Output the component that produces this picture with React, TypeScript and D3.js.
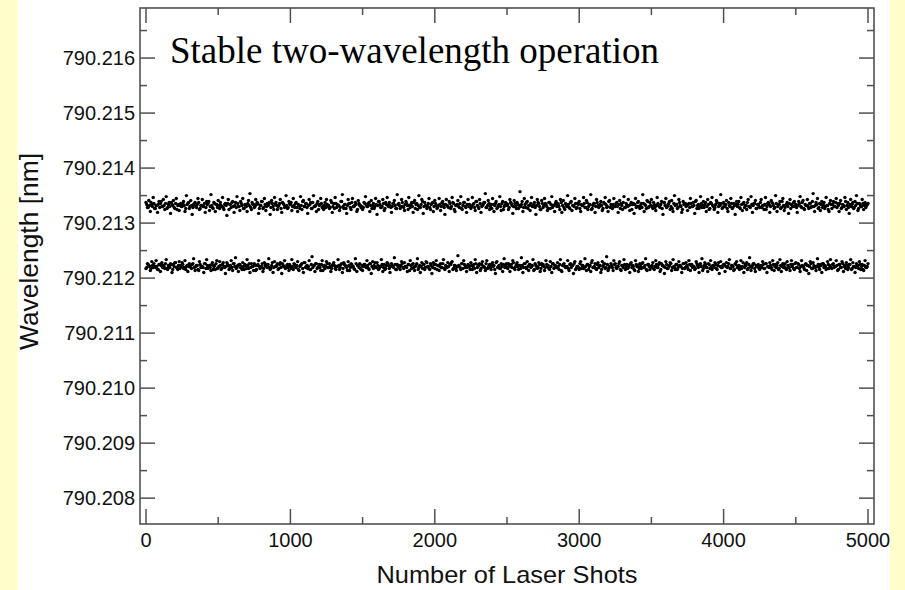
import React from "react";
import * as d3 from "d3";

// ---- data ----
const title = "Stable two-wavelength operation";
const xLabel = "Number of Laser Shots";
const yLabel = "Wavelength [nm]";
const xTickValues = [0, 1000, 2000, 3000, 4000, 5000];
const xMinorValues = [500, 1500, 2500, 3500, 4500];
const yTickValues = [790.208, 790.209, 790.21, 790.211, 790.212, 790.213, 790.214, 790.215, 790.216];
const yTickLabels = ["790.208", "790.209", "790.210", "790.211", "790.212", "790.213", "790.214", "790.215", "790.216"];
const yMinorValues = [790.2085, 790.2095, 790.2105, 790.2115, 790.2125, 790.2135, 790.2145, 790.2155, 790.2165];
const shotStep = 10; // shots between samples within one array
const upperBase = 790.21332; // nm
const lowerBase = 790.21221; // nm
const devUnit = 0.000018; // deviations below are in units of 1.8e-5 nm
// samples at shots 0,10,...,5000
const upperDev = [
  3,-2,5,-6,1,8,-3,0,-7,4,2,-1,6,-4,9,-2,3,-8,1,5,-3,7,0,-5,2,
  -1,4,-6,10,2,-3,5,-9,1,3,-2,7,-4,0,6,-1,-7,4,2,-5,11,-2,3,-6,1,
  5,-3,0,8,-4,2,-10,6,1,-2,4,-7,3,9,-1,-5,2,7,-3,0,-6,5,12,-4,1,
  -2,6,3,-8,0,4,-3,7,-5,2,1,-9,5,-1,8,3,-4,0,6,-7,2,-2,10,-3,4,
  1,-5,7,-2,3,-6,0,9,-4,5,-1,2,-8,6,3,-3,10,-1,-6,4,0,7,-2,-4,3,
  6,-1,-3,5,-7,2,8,-2,0,-5,4,11,-3,1,-8,6,2,-4,7,-1,3,-6,5,0,-2,
  -4,3,9,-1,2,-6,5,0,-3,7,-9,4,1,-2,6,-5,3,8,-1,0,-7,2,5,-3,11,
  2,-3,6,-1,-5,4,0,8,-2,3,-7,5,1,-4,10,-2,6,-8,3,0,-1,7,-4,2,-6,
  5,0,-2,7,-5,3,1,-9,6,-1,4,-3,8,2,-6,0,5,-2,9,-4,3,-1,-7,6,1,
  -3,8,2,-5,4,-1,6,-7,0,3,12,-2,5,-4,1,7,-6,2,-3,0,9,-5,4,-1,3,
  0,-4,6,2,-8,5,-1,3,-3,14,1,-6,7,-2,4,0,-5,8,-1,3,-9,6,2,-4,5,
  -2,7,1,-5,3,-3,9,0,-6,4,2,-1,6,-7,5,-4,1,10,-2,3,-5,0,7,-3,2,
  4,-6,0,8,-2,5,-4,1,11,-3,2,-7,6,0,-1,4,-5,3,8,-2,-6,5,1,-3,7,
  -1,3,-7,5,2,-4,9,-2,0,6,-5,3,1,-8,7,-1,4,-3,2,11,-6,0,5,-2,3,
  6,-3,1,-5,8,0,-2,4,-9,3,7,-1,2,-4,5,-6,10,1,-3,6,0,-7,4,2,-1,
  -5,2,7,-1,3,-8,5,0,-3,9,-2,4,1,-6,6,-4,3,8,-1,-2,5,-7,2,11,-3,
  3,-1,5,-6,0,7,-3,2,-9,4,1,-2,8,-5,3,0,-4,6,-1,9,-7,2,5,-3,1,
  -2,6,0,-4,8,-1,3,-7,5,2,-3,10,-6,1,4,-2,7,-5,0,3,-8,6,1,-1,4,
  1,-7,4,9,-2,5,-4,0,6,-3,2,-1,12,-6,3,7,-2,-5,4,1,-3,8,0,-6,5,
  -3,4,-1,7,2,-6,5,-2,0,8,-4,3,-8,6,1,-3,4,10,-5,2,-1,6,-4,3,0,
  2,
];
// samples at shots 5,15,...,4995
const upperMidDev = [
  1,-2,0,3,-1,2,-3,0,1,-2,4,-1,0,2,-3,1,-1,3,0,-2,2,-4,1,0,-1,
  2,0,-3,1,3,-1,0,-2,2,-1,1,3,-3,0,-1,2,-2,1,4,-1,0,-3,2,1,-2,
  0,3,-1,-2,1,0,2,-4,1,3,-1,0,-2,2,-1,4,0,-3,1,-1,2,0,-2,3,1,
  -1,1,2,-3,0,4,-2,1,-1,0,3,-2,2,-4,1,0,-1,2,-3,3,1,-1,0,-2,2,
  3,-1,0,2,-2,1,-3,0,4,-1,2,-2,0,1,-3,3,-1,0,2,-4,1,2,-1,0,-2,
  1,0,-2,3,-1,-3,2,1,0,-2,4,-1,1,-3,0,2,-2,3,-1,0,1,-4,2,0,-1,
  -2,2,1,-1,3,0,-3,2,-1,1,0,4,-2,-1,2,-3,1,0,3,-2,-1,2,0,-3,1,
  0,-1,3,-2,1,2,-4,0,1,-1,3,-3,2,0,-2,1,4,-1,0,-3,2,-2,1,3,-1,
  2,-3,0,1,-1,4,-2,1,0,-2,2,-1,3,-4,0,1,-1,2,-3,0,3,-2,1,-1,0,
  -1,1,-2,4,0,-3,2,-1,1,3,-2,0,2,-1,-3,1,0,4,-2,1,-1,2,-4,0,2,
  1,-2,3,0,-1,2,-3,1,0,-1,4,-2,1,3,-3,0,2,-1,1,-2,0,3,-1,-4,2,
  0,2,-1,-3,3,1,-2,0,2,-1,1,-4,3,0,-2,2,-1,1,-3,4,0,-1,2,-2,1,
  -3,1,0,2,-2,3,-1,1,-4,0,2,-1,3,-2,1,0,-3,2,1,-1,4,-2,0,1,-1,
  2,-1,1,-3,0,3,-2,2,-1,0,1,-4,2,1,-2,3,-1,0,-2,2,1,-3,4,-1,0,
  -1,3,-2,0,2,-1,1,-3,3,0,-2,1,4,-1,-3,2,0,1,-2,3,-1,-4,1,2,0,
  1,-2,2,-1,0,4,-3,1,-1,2,0,-2,3,-1,1,-3,2,0,-4,1,3,-1,0,2,-2,
  0,1,-3,3,-1,2,-2,0,1,-1,4,-3,1,2,-2,0,3,-1,-2,1,0,2,-3,1,-1,
  3,-2,0,1,-4,2,1,-1,3,0,-2,2,-1,1,-3,4,0,-2,1,-1,2,-3,0,3,-1,
  -2,0,2,-1,3,-3,1,0,-1,2,-2,4,-1,0,1,-3,2,1,-2,3,-1,0,-4,2,1,
  1,-1,3,-2,0,2,-3,1,-1,4,0,-2,1,-1,3,-2,0,2,-3,1,-1,2,0,-2,1,
];
// samples at shots 0,10,...,5000
const lowerDev = [
  -2,3,1,-4,5,-1,0,6,-3,2,-5,4,1,-2,7,-3,0,3,-6,2,4,-1,-3,5,1,
  4,-2,6,0,-5,3,-1,2,8,-4,1,-3,5,-1,0,-6,3,7,-2,1,-4,4,0,-3,6,
  -1,5,-3,2,0,-7,4,1,-2,6,-4,3,9,-1,-5,2,0,4,-3,1,7,-2,-6,3,0,
  3,-4,1,6,-2,0,-5,4,2,-1,8,-3,1,-6,5,0,3,-2,4,-7,1,6,-1,2,-4,
  0,7,-3,2,-1,5,-4,1,3,-6,4,0,-2,6,-3,10,1,-5,3,-1,2,-4,6,0,-2,
  5,-1,3,-5,1,4,-2,0,7,-3,2,-6,4,1,-1,5,-4,3,0,-2,8,-5,1,3,-3,
  -4,2,0,6,-2,3,-7,5,1,-1,4,-3,0,7,-5,2,-2,4,1,-6,3,0,9,-3,2,
  1,-3,5,-1,4,0,-5,2,6,-2,3,-4,1,8,-1,-6,4,2,-3,5,0,-2,3,-7,4,
  -2,6,1,-4,3,-1,7,-3,0,4,-5,2,5,-2,1,-4,11,0,-3,3,6,-1,-5,2,0,
  4,-3,2,7,-6,1,3,-2,5,0,-4,6,-1,2,-3,4,1,-7,5,0,-2,3,-5,8,1,
  -1,3,-5,2,6,-2,0,4,-3,1,9,-6,3,-1,5,-4,2,0,7,-3,1,-2,4,-5,3,
  2,-4,6,0,-2,5,-6,3,1,-1,4,-3,7,-5,2,0,-1,6,-4,3,1,-7,5,-2,0,
  -3,5,1,-2,8,-4,2,0,-5,6,-1,3,-3,4,1,-6,5,2,-2,10,-4,0,3,-1,6,
  3,-2,0,5,-4,1,7,-3,2,-1,-6,4,1,-3,6,0,-5,3,-2,4,-1,8,-4,2,-3,
  0,4,-3,6,-1,2,-5,3,1,-7,5,-2,0,4,-4,7,-1,2,-3,5,1,-6,3,-2,4,
  -1,6,-4,2,0,-3,5,1,-6,3,8,-2,4,-1,-5,2,6,-3,0,4,-2,1,-7,5,-1,
  2,-5,4,0,7,-2,1,-4,3,5,-1,-3,6,0,-6,2,4,-2,9,-4,1,3,-5,0,2,
  -3,1,5,-2,3,-6,0,4,-1,6,-4,2,1,-3,7,-5,3,0,-2,5,-1,-4,6,2,-3,
  4,-1,2,-5,6,0,-3,3,1,-7,5,-2,4,0,-4,8,-1,2,-6,3,1,-3,5,-2,7,
  -2,3,0,6,-4,2,-1,5,-5,1,4,-3,2,7,-2,0,-6,3,1,5,-3,2,-4,6,-1,
  3,
];
// samples at shots 5,15,...,4995
const lowerMidDev = [
  -1,2,0,-2,1,3,-1,0,-3,2,1,-1,0,3,-2,1,-1,2,-3,0,4,-1,1,-2,0,
  2,-1,-3,1,0,2,-2,3,-1,0,1,-4,2,0,-1,3,-2,1,0,-1,2,-3,1,3,-2,
  0,1,-2,4,-1,0,2,-3,1,-1,3,0,-2,1,2,-1,-3,0,2,-2,1,3,-1,0,-4,
  1,-3,2,0,-1,3,-2,1,0,2,-1,-2,4,-1,0,1,-3,2,-1,3,0,-2,1,-1,2,
  -2,0,3,-1,1,-3,0,2,-2,4,-1,1,0,-3,2,-1,1,3,-2,0,-1,2,-4,1,0,
  3,-1,0,-2,2,1,-3,0,1,-1,3,-2,2,0,-4,1,-1,2,0,-3,3,1,-1,-2,1,
  0,2,-1,1,-3,3,0,-2,4,-1,1,-2,0,2,-1,-3,1,3,-2,0,1,-1,2,-3,0,
  -1,1,3,-2,0,-1,2,-4,1,2,-1,0,3,-3,1,0,-2,2,-1,4,0,-3,1,-1,2,
  2,-3,1,0,-1,3,-2,1,-1,0,2,4,-3,1,-2,0,1,-1,3,-2,2,0,-1,1,-3,
  1,0,-2,3,-1,1,-4,2,0,-1,3,-2,1,-1,2,0,-3,4,-1,1,-2,0,2,-1,3,
  -2,1,0,-1,4,-3,2,0,1,-2,1,-1,3,-2,0,2,-1,1,-4,3,0,-1,2,-2,1,
  0,-1,2,1,-3,0,3,-2,1,-1,0,2,-4,1,3,-1,0,-2,2,-1,1,3,-3,0,-1,
  3,-2,1,-1,0,2,-3,1,4,-1,0,-2,2,-1,1,-3,0,3,-1,2,-2,0,1,-4,2,
  -1,0,3,-3,1,-1,2,0,-2,1,3,-1,0,-4,2,1,-2,0,3,-1,1,-3,2,0,-1,
  1,-2,0,2,-1,4,-3,1,0,-1,2,-2,1,3,-1,0,-3,2,-1,1,0,-2,3,-1,1,
  -3,2,1,-1,0,-2,3,-1,2,0,-4,1,2,-1,3,-2,0,1,-1,2,-3,4,0,-1,1,
  2,0,-1,3,-2,1,0,-3,2,-1,1,0,-2,4,-1,1,-3,2,0,-1,3,-2,1,0,-2,
  0,-1,2,-2,3,0,-1,1,-3,2,0,-1,4,-2,1,0,-1,3,-3,1,-1,2,0,-2,3,
  -1,3,-2,0,1,-1,2,-4,1,0,3,-2,1,-1,0,2,-3,1,3,-1,0,-2,2,1,-1,
  2,-1,0,1,-3,2,-1,3,0,-2,1,-1,2,-3,4,0,-1,1,-2,2,0,-3,1,-1,0,
];

const W = 905;
const H = 590;
const M = { left: 140, right: 874, top: 8, bottom: 524 };
const AXIS = "#505050";

type Pt = { shot: number; wl: number };
const toPoints = (base: number, dev: number[], firstShot: number): Pt[] =>
  dev.map((d, i) => ({ shot: firstShot + i * shotStep, wl: base + d * devUnit }));

export default function App() {
  const x = d3.scaleLinear().domain([-41.5, 5041.5]).range([M.left, M.right]);
  const y = d3.scaleLinear().domain([790.20753, 790.21691]).range([M.bottom, M.top]);

  const points: Pt[] = [
    ...toPoints(upperBase, upperDev, 0),
    ...toPoints(upperBase, upperMidDev, 5),
    ...toPoints(lowerBase, lowerDev, 0),
    ...toPoints(lowerBase, lowerMidDev, 5),
  ];

  const sans = "'Liberation Sans', Arial, sans-serif";
  const serif = "'Liberation Serif', 'Times New Roman', serif";

  return (
    <>
      <style>{`body{margin:0}`}</style>
      <svg width={W} height={H} style={{ display: "block" }}>
        <rect x={0} y={0} width={W} height={H} fill="#ffffff" />
        {/* data */}
        <g fill="#000">
          {points.map((p, i) => (
            <circle key={i} cx={x(p.shot)} cy={y(p.wl)} r={1.7} />
          ))}
        </g>
        {/* frame */}
        <rect
          x={M.left}
          y={M.top}
          width={M.right - M.left}
          height={M.bottom - M.top}
          fill="none"
          stroke={AXIS}
          strokeWidth={1.6}
        />
        {/* ticks */}
        <g stroke={AXIS} strokeWidth={1.5}>
          {yTickValues.map((v) => (
            <g key={"ym" + v}>
              <line x1={M.left} x2={M.left + 15} y1={y(v)} y2={y(v)} />
              <line x1={M.right} x2={M.right - 15} y1={y(v)} y2={y(v)} />
            </g>
          ))}
          {yMinorValues.map((v) => (
            <g key={"yn" + v}>
              <line x1={M.left} x2={M.left + 7} y1={y(v)} y2={y(v)} />
              <line x1={M.right} x2={M.right - 7} y1={y(v)} y2={y(v)} />
            </g>
          ))}
          {xTickValues.map((v) => (
            <g key={"xm" + v}>
              <line x1={x(v)} x2={x(v)} y1={M.bottom} y2={M.bottom - 15} />
              <line x1={x(v)} x2={x(v)} y1={M.top} y2={M.top + 15} />
            </g>
          ))}
          {xMinorValues.map((v) => (
            <g key={"xn" + v}>
              <line x1={x(v)} x2={x(v)} y1={M.bottom} y2={M.bottom - 7} />
              <line x1={x(v)} x2={x(v)} y1={M.top} y2={M.top + 7} />
            </g>
          ))}
        </g>
        {/* tick labels */}
        <g fontFamily={sans} fontSize={20} fill="#111">
          {yTickValues.map((v, i) => (
            <text key={"yl" + v} x={M.left - 5} y={y(v) + 7} textAnchor="end">
              {yTickLabels[i]}
            </text>
          ))}
          {xTickValues.map((v) => (
            <text key={"xl" + v} x={x(v)} y={547} textAnchor="middle">
              {v}
            </text>
          ))}
        </g>
        {/* axis titles */}
        <text
          x={507}
          y={583}
          textAnchor="middle"
          fontFamily={sans}
          fontSize={24}
          textLength={261}
          lengthAdjust="spacingAndGlyphs"
          fill="#111"
        >
          {xLabel}
        </text>
        <text
          transform="translate(38,251.5) rotate(-90)"
          textAnchor="middle"
          fontFamily={sans}
          fontSize={26}
          textLength={197}
          lengthAdjust="spacingAndGlyphs"
          fill="#111"
        >
          {yLabel}
        </text>
        {/* title */}
        <text x={170} y={63} fontFamily={serif} fontSize={37} fill="#000">
          {title}
        </text>
        {/* slide background bands */}
        <rect x={0} y={0} width={18} height={H} fill="#FFFFCC" />
        <rect x={890} y={0} width={W - 890} height={H} fill="#FFFFCC" />
      </svg>
    </>
  );
}
